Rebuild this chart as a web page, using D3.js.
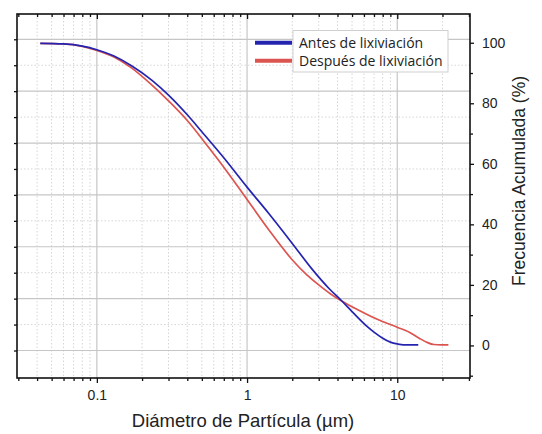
<!DOCTYPE html>
<html>
<head>
<meta charset="utf-8">
<script src="https://cdn.jsdelivr.net/npm/d3@7"></script>
<style>
  body { margin: 0; background: #fff; }
  svg text { font-family: "Liberation Sans", Arial, sans-serif; }
</style>
</head>
<body>
<div id="chart"></div>
<script>
// cumulative size distribution
var diamAntes = [0.042, 0.06, 0.08, 0.1, 0.13, 0.17, 0.234, 0.3, 0.4, 0.5, 0.7, 1.0, 1.4, 2.0, 2.7, 3.5, 4.29, 5.0, 6.29, 7.0, 8.0, 9.0, 10.0, 11.0, 13.8];
var pctAntes  = [99.8, 99.6, 98.9, 97.7, 95.6, 92.4, 87.5, 82.7, 76.2, 70.6, 62.0, 52.3, 43.5, 33.7, 25.3, 18.9, 14.6, 11.2, 6.3, 4.4, 2.4, 1.1, 0.5, 0.2, 0.2];

var diamDespues = [0.042, 0.06, 0.08, 0.1, 0.13, 0.17, 0.227, 0.3, 0.4, 0.528, 0.7, 0.95, 1.39, 1.99, 2.5, 3.0, 3.6, 4.29, 5.5, 7.3, 10.0, 12.2, 14.0, 15.8, 17.5, 19.5, 21.9];
var pctDespues  = [99.8, 99.6, 98.8, 97.5, 95.3, 91.7, 86.5, 80.8, 74.3, 66.8, 58.9, 49.8, 38.3, 28.4, 23.3, 20.0, 17.0, 14.6, 11.7, 8.7, 6.0, 4.2, 2.4, 1.0, 0.3, 0.2, 0.2];

var seriesNames = ["Antes de lixiviación", "Después de lixiviación"];
var seriesColors = ["#2424b0", "#dc5450"];

var xMajor = [0.1, 1, 10];
var xMinor = [0.03, 0.04, 0.05, 0.06, 0.07, 0.08, 0.09, 0.2, 0.3, 0.4, 0.5, 0.6, 0.7, 0.8, 0.9, 2, 3, 4, 5, 6, 7, 8, 9, 20, 30];
var yMajor = [0, 20, 40, 60, 80, 100];
var yMinor = [-10, 10, 30, 50, 70, 90];
// hidden left axis that only carries the grid
var gridMajor = [0, 20, 40, 60, 80, 100, 120];
var gridMinor = [10, 30, 50, 70, 90, 110];

var svg = d3.select("#chart")
    .append("svg")
    .attr("width", 542)
    .attr("height", 434);

var x = d3.scaleLog().domain([0.0294, 30.5]).range([17, 470]);
var y = d3.scaleLinear().domain([-10.76, 109.5]).range([378, 14]);
var yGrid = d3.scaleLinear().domain([-10.6, 129.75]).range([378, 14]);

// grid
var grid = svg.append("g");
grid.selectAll(".vmin").data(xMinor.filter(function(d) { return d > 0.03 && d < 30; }))
    .enter().append("line")
    .attr("x1", d => x(d)).attr("x2", d => x(d))
    .attr("y1", 14).attr("y2", 378)
    .attr("stroke", "#d6d6d6").attr("stroke-dasharray", "1.5,2");
grid.selectAll(".hmin").data(gridMinor)
    .enter().append("line")
    .attr("x1", 17).attr("x2", 470)
    .attr("y1", d => yGrid(d)).attr("y2", d => yGrid(d))
    .attr("stroke", "#d6d6d6").attr("stroke-dasharray", "1.5,2");
grid.selectAll(".vmaj").data(xMajor)
    .enter().append("line")
    .attr("x1", d => x(d)).attr("x2", d => x(d))
    .attr("y1", 14).attr("y2", 378)
    .attr("stroke", "#c6c6c6").attr("stroke-width", 1.2);
grid.selectAll(".hmaj").data(gridMajor)
    .enter().append("line")
    .attr("x1", 17).attr("x2", 470)
    .attr("y1", d => yGrid(d)).attr("y2", d => yGrid(d))
    .attr("stroke", "#c6c6c6").attr("stroke-width", 1.2);

// curves
var line = d3.line()
    .x(d => x(d[0]))
    .y(d => y(d[1]))
    .curve(d3.curveMonotoneX);

var dataAntes = d3.zip(diamAntes, pctAntes);
var dataDespues = d3.zip(diamDespues, pctDespues);

svg.append("path").datum(dataDespues)
    .attr("d", line).attr("fill", "none")
    .attr("stroke", seriesColors[1]).attr("stroke-width", 1.7);
svg.append("path").datum(dataAntes)
    .attr("d", line).attr("fill", "none")
    .attr("stroke", seriesColors[0]).attr("stroke-width", 1.7);

// axes
function styleAxis(g) {
    g.select(".domain").remove();
    g.selectAll("line").attr("stroke", "#111").attr("stroke-width", 1.3);
    g.selectAll("text").attr("font-size", 14).attr("fill", "#222");
}

svg.append("g").attr("transform", "translate(0,378)")
    .call(d3.axisBottom(x).tickValues(xMinor).tickSize(3).tickFormat(""))
    .call(styleAxis);
svg.append("g").attr("transform", "translate(0,378)")
    .call(d3.axisBottom(x).tickValues(xMajor).tickSize(5).tickPadding(7).tickFormat(d3.format("")))
    .call(styleAxis);
svg.append("g").attr("transform", "translate(0,14)")
    .call(d3.axisBottom(x).tickValues(xMinor).tickSize(3).tickFormat(""))
    .call(styleAxis);
svg.append("g").attr("transform", "translate(0,14)")
    .call(d3.axisBottom(x).tickValues(xMajor).tickSize(5).tickFormat(""))
    .call(styleAxis);

svg.append("g").attr("transform", "translate(17,0)")
    .call(d3.axisLeft(yGrid).tickValues(gridMajor.concat(gridMinor)).tickSize(3).tickFormat(""))
    .call(styleAxis);

svg.append("g").attr("transform", "translate(470,0)")
    .call(d3.axisRight(y).tickValues(yMinor).tickSize(3).tickFormat(""))
    .call(styleAxis);
svg.append("g").attr("transform", "translate(470,0)")
    .call(d3.axisRight(y).tickValues(yMajor).tickSize(4).tickPadding(8))
    .call(styleAxis);

// frame
svg.append("rect")
    .attr("x", 17).attr("y", 14)
    .attr("width", 453).attr("height", 364)
    .attr("fill", "none").attr("stroke", "#111").attr("stroke-width", 1.6);

// titles
svg.append("text")
    .attr("x", 243).attr("y", 427)
    .attr("text-anchor", "middle")
    .attr("font-size", 18.5).attr("fill", "#222")
    .text("Diámetro de Partícula (µm)");
svg.append("text")
    .attr("transform", "translate(525,181) rotate(-90)")
    .attr("text-anchor", "middle")
    .attr("font-size", 17.5).attr("fill", "#222")
    .text("Frecuencia Acumulada (%)");

// legend
var legend = svg.append("g");
legend.append("rect")
    .attr("x", 293).attr("y", 30.5)
    .attr("width", 155).attr("height", 41.5)
    .attr("fill", "#fff").attr("stroke", "#cfcfcf").attr("stroke-width", 1);
var items = legend.selectAll(".item").data(seriesNames)
    .enter().append("g")
    .attr("transform", (d, i) => "translate(0," + (42.7 + i * 18) + ")");
items.append("line")
    .attr("x1", 255).attr("x2", 292)
    .attr("stroke", (d, i) => seriesColors[i]).attr("stroke-width", 4);
items.append("text")
    .attr("x", 299).attr("y", 5)
    .style("font-family", "'Open Sans', sans-serif")
    .attr("font-size", 14).attr("fill", "#222")
    .text(d => d);
</script>
</body>
</html>
